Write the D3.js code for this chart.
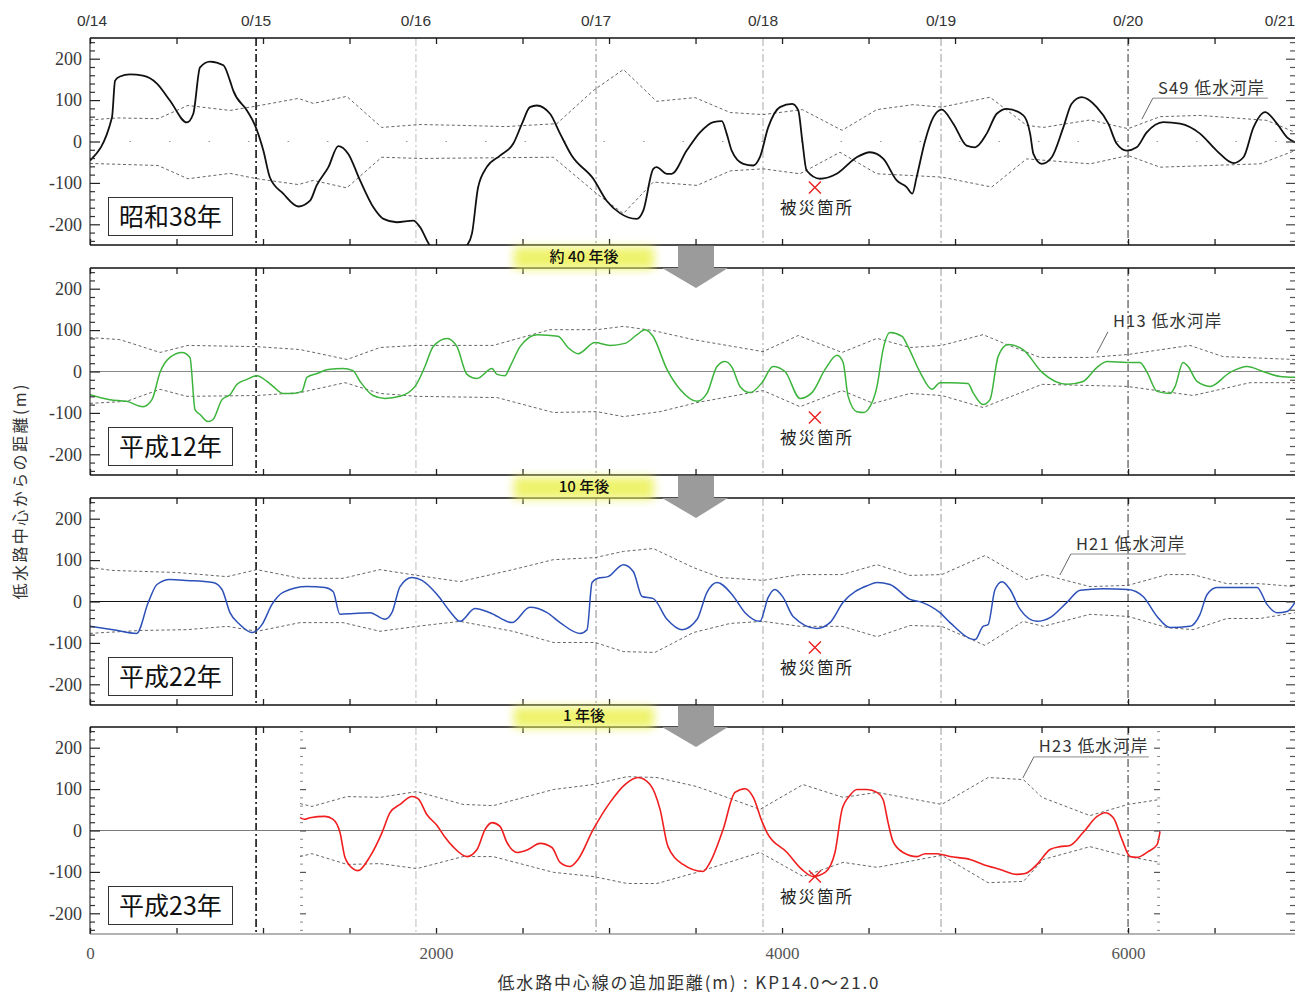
<!DOCTYPE html>
<html>
<head>
<meta charset="utf-8">
<script src="https://cdnjs.cloudflare.com/ajax/libs/d3/7.8.5/d3.min.js"></script>
<style>
  body { margin: 0; background: #fff; }
  svg { display: block; }
  .serif text { font-family: 'Liberation Serif', 'DejaVu Serif', serif; }
</style>
</head>
<body>
<svg id="chart" width="1306" height="993"></svg>
<script>
// ---- data -------------------------------------------------------------
// kilometre posts along the low-water channel (distance in m)
const kpNames = ["0/14", "0/15", "0/16", "0/17", "0/18", "0/19", "0/20", "0/21"];
const kpDist  = [0, 960, 1884, 2925, 3890, 4919, 6000, 6965];

const panelYears = ["昭和38年", "平成12年", "平成22年", "平成23年"];
const bankLabels = ["S49 低水河岸", "H13 低水河岸", "H21 低水河岸", "H23 低水河岸"];
const bankLabelTips = [[6080, 54], [5820, 45], [5606, 64], [5392, 127]];
const gapLabels = ["約 40 年後", "10 年後", "1 年後"];
const damageSite = [4190, -111];
const damageText = "被災箇所";

const xTickLabels = [0, 2000, 4000, 6000];
const yTickLabels = [200, 100, 0, -100, -200];
const xTitle = "低水路中心線の追加距離(m) : KP14.0～21.0";
const yTitle = "低水路中心からの距離(m)";

// low-water channel alignment, [distance m, offset m]
const centerS38 = [[0,-46],[127,58],[145,147],[173,157],[231,162],[306,159],[387,140],[462,99],[560,46],[597,67],[636,179],[694,193],[771,184],[809,147],[828,123],[907,75],[954,39],[1002,-22],[1040,-87],[1117,-126],[1204,-157],[1272,-143],[1310,-106],[1378,-62],[1435,-11],[1493,-30],[1561,-94],[1638,-159],[1696,-187],[1773,-195],[1869,-191],[1908,-207],[1965,-251],[2000,-262],[2150,-262],[2179,-251],[2208,-222],[2243,-111],[2293,-62],[2370,-34],[2447,-5],[2497,43],[2543,83],[2582,87],[2659,67],[2717,19],[2784,-34],[2909,-90],[2986,-143],[3063,-173],[3160,-187],[3198,-167],[3256,-66],[3275,-62],[3333,-78],[3362,-78],[3449,-22],[3526,22],[3603,47],[3652,49],[3680,19],[3709,-22],[3776,-54],[3834,-58],[3872,-38],[3920,34],[3988,83],[4059,91],[4094,75],[4117,2],[4142,-70],[4220,-90],[4316,-78],[4432,-38],[4509,-26],[4586,-42],[4663,-94],[4720,-110],[4753,-126],[4778,-86],[4827,2],[4875,59],[4923,77],[4990,43],[5067,-10],[5116,-14],[5183,19],[5241,67],[5299,79],[5395,63],[5434,19],[5453,-30],[5501,-54],[5559,-38],[5626,34],[5674,91],[5732,107],[5819,83],[5886,43],[5934,-5],[5992,-22],[6050,-14],[6108,22],[6204,47],[6301,43],[6416,19],[6512,-22],[6609,-52],[6667,-38],[6725,34],[6792,71],[6861,43],[6919,10],[6965,-2]];
const upperS38 = [[0,52],[156,57],[393,55],[566,87],[809,75],[954,85],[1204,104],[1291,92],[1484,109],[1686,34],[1908,41],[2139,39],[2399,36],[2698,43],[2909,123],[3083,174],[3275,97],[3497,106],[3700,70],[3890,65],[4117,77],[4347,27],[4548,77],[4757,89],[4923,83],[5202,107],[5414,39],[5510,34],[5780,52],[6000,31],[6185,60],[6416,63],[6803,51],[6965,22]];
const lowerS38 = [[0,-53],[393,-58],[566,-90],[809,-77],[965,-90],[1204,-104],[1291,-94],[1484,-112],[1686,-38],[1908,-41],[2678,-38],[2929,-126],[3083,-174],[3256,-98],[3509,-106],[3700,-71],[3890,-66],[4104,-78],[4335,-26],[4548,-78],[4923,-86],[5212,-110],[5414,-42],[5780,-54],[6000,-34],[6185,-62],[6763,-54],[6965,-22]];

const centerH12 = [[0,-56],[116,-68],[212,-72],[306,-85],[358,-68],[405,-2],[462,34],[532,46],[578,34],[607,-92],[636,-104],[682,-121],[711,-116],[763,-68],[809,-56],[850,-31],[907,-19],[965,-10],[1023,-24],[1058,-36],[1116,-53],[1173,-53],[1225,-48],[1254,-14],[1312,-5],[1376,5],[1462,7],[1520,2],[1561,-24],[1636,-58],[1705,-65],[1792,-60],[1879,-36],[1936,12],[1983,60],[2064,80],[2121,60],[2179,-7],[2237,-17],[2324,7],[2353,-7],[2399,-10],[2428,12],[2486,60],[2584,89],[2705,85],[2763,58],[2821,43],[2919,70],[3006,63],[3092,68],[3162,89],[3208,101],[3254,85],[3335,5],[3410,-43],[3509,-72],[3566,-53],[3624,12],[3670,24],[3711,10],[3757,-36],[3815,-51],[3884,-27],[3948,12],[4017,0],[4104,-65],[4173,-51],[4249,5],[4318,39],[4353,22],[4382,-60],[4433,-97],[4475,-99],[4497,-92],[4549,-36],[4584,53],[4624,94],[4694,85],[4728,60],[4798,-2],[4867,-43],[4913,-27],[4971,-27],[5075,-29],[5104,-51],[5162,-80],[5202,-68],[5249,36],[5306,65],[5393,53],[5503,-2],[5647,-31],[5740,-24],[5821,10],[5879,24],[5994,22],[6069,22],[6110,-2],[6168,-48],[6243,-53],[6272,-36],[6318,22],[6347,12],[6399,-24],[6474,-36],[6590,-2],[6688,12],[6780,0],[6879,-12],[6965,-14]];
const upperH12 = [[0,82],[173,77],[405,46],[566,63],[965,60],[1214,53],[1486,29],[1676,58],[1890,63],[2330,63],[2659,101],[2929,101],[3083,109],[3254,99],[3487,77],[3890,48],[4094,87],[4347,46],[4549,80],[4740,58],[4923,63],[5162,89],[5300,65],[5491,34],[5780,34],[6000,41],[6358,63],[6549,36],[6965,29]];
const lowerH12 = [[0,-77],[212,-72],[405,-43],[560,-60],[965,-58],[1214,-51],[1474,-27],[1676,-53],[1890,-60],[2353,-63],[2678,-99],[2929,-97],[3083,-109],[3295,-97],[3509,-75],[3890,-46],[4104,-85],[4347,-46],[4528,-77],[4740,-53],[4923,-58],[5162,-87],[5503,-31],[5994,-36],[6376,-58],[6705,-27],[6965,-27]];

const centerH22 = [[0,-60],[133,-68],[270,-77],[337,-2],[387,41],[462,53],[560,51],[711,46],[763,29],[809,-27],[867,-56],[936,-75],[994,-56],[1052,-7],[1116,22],[1254,36],[1358,34],[1405,24],[1445,-31],[1520,-29],[1618,-27],[1705,-43],[1745,-27],[1792,36],[1861,58],[1919,51],[2006,17],[2081,-24],[2139,-48],[2225,-17],[2312,-27],[2439,-51],[2543,-14],[2642,-27],[2717,-51],[2832,-77],[2873,-68],[2902,46],[2936,56],[2994,60],[3083,89],[3141,72],[3191,12],[3256,7],[3335,-43],[3422,-68],[3509,-43],[3566,22],[3624,46],[3711,17],[3786,-27],[3872,-48],[3920,10],[3959,29],[4006,10],[4064,-36],[4202,-65],[4277,-51],[4353,-2],[4497,39],[4549,46],[4624,41],[4740,5],[4809,-2],[4913,-27],[4971,-51],[5116,-92],[5162,-60],[5191,-56],[5231,29],[5272,48],[5318,29],[5376,-19],[5474,-48],[5549,-39],[5647,-2],[5723,27],[5856,31],[6000,29],[6087,12],[6168,-36],[6243,-63],[6358,-60],[6416,-31],[6457,17],[6514,34],[6746,34],[6803,-7],[6861,-27],[6919,-24],[6965,-2]];
const upperH22 = [[0,82],[133,75],[503,70],[792,60],[965,77],[1214,56],[1462,56],[1676,77],[1890,63],[2139,48],[2445,77],[2678,101],[2919,106],[3083,121],[3256,128],[3487,82],[3642,58],[3890,51],[4104,65],[4347,65],[4549,89],[4740,63],[4923,65],[5173,111],[5414,53],[5510,65],[5780,36],[6000,39],[6225,65],[6376,65],[6572,43],[6763,43],[6965,36]];
const lowerH22 = [[0,-77],[289,-70],[560,-68],[792,-60],[965,-72],[1214,-51],[1462,-51],[1676,-72],[1890,-60],[2139,-48],[2445,-72],[2678,-99],[2919,-99],[3083,-121],[3266,-123],[3487,-75],[3700,-53],[3890,-48],[4104,-60],[4347,-60],[4549,-85],[4740,-58],[4923,-60],[5173,-106],[5393,-48],[5510,-60],[5780,-31],[6000,-36],[6225,-63],[6376,-68],[6572,-41],[6763,-41],[6965,-27]];

const centerH23 = [[1214,31],[1240,27],[1272,31],[1358,34],[1405,27],[1445,-5],[1474,-65],[1520,-92],[1549,-97],[1618,-63],[1688,-5],[1734,43],[1792,63],[1861,82],[1896,77],[1948,38],[2006,12],[2050,-15],[2098,-39],[2179,-63],[2237,-46],[2283,2],[2324,19],[2370,10],[2410,-29],[2468,-53],[2532,-46],[2601,-31],[2670,-41],[2717,-77],[2775,-87],[2821,-70],[2908,2],[3006,68],[3092,111],[3168,128],[3237,111],[3295,51],[3341,-39],[3428,-82],[3543,-99],[3584,-77],[3659,2],[3728,92],[3786,101],[3834,80],[3884,22],[3913,-5],[4029,-53],[4115,-94],[4179,-111],[4249,-101],[4306,-53],[4347,51],[4393,85],[4433,99],[4491,99],[4549,92],[4584,75],[4613,19],[4642,-27],[4700,-53],[4780,-63],[4827,-56],[4896,-56],[4971,-63],[5087,-70],[5162,-82],[5260,-94],[5358,-106],[5405,-104],[5474,-82],[5549,-46],[5607,-39],[5665,-36],[5740,-5],[5821,34],[5867,43],[5915,31],[5965,-22],[6012,-63],[6050,-65],[6116,-51],[6168,-34],[6185,-2]];
const upperH23 = [[1214,65],[1283,58],[1486,82],[1676,80],[1890,94],[2156,63],[2330,60],[2678,99],[2908,111],[3104,130],[3277,128],[3509,106],[3873,51],[4121,111],[4353,80],[4549,92],[4923,63],[5191,128],[5395,123],[5503,80],[5780,36],[6000,63],[6185,75]];
const lowerH23 = [[1214,-63],[1283,-56],[1486,-82],[1676,-80],[1890,-92],[2156,-63],[2330,-63],[2678,-101],[2908,-111],[3104,-128],[3277,-128],[3509,-101],[3873,-53],[4121,-111],[4353,-77],[4549,-89],[4923,-60],[5191,-126],[5395,-123],[5510,-70],[5780,-39],[6000,-63],[6185,-77]];
// survey extent of the 平成23年 section
const surveyExtentH23 = [1214, 6185];

const centerLines = [centerS38, centerH12, centerH22, centerH23];
const upperBanks  = [upperS38, upperH12, upperH22, upperH23];
const lowerBanks  = [lowerS38, lowerH12, lowerH22, lowerH23];

// ---- layout & styles --------------------------------------------------
const left = 90, right = 1295;
const panelTops = [38, 268, 498, 727];
const panelH = 207;
const lineColors = ["#111111", "#3cb43c", "#2c50b8", "#f01e1e"];
const lineWidths = [1.8, 1.5, 1.5, 1.6];
const zeroStyles = [
  { stroke: "#999", dash: "1.5,38", width: 1.2 },
  { stroke: "#8a8a8a", dash: null, width: 1 },
  { stroke: "#111", dash: null, width: 1 },
  { stroke: "#7a7a7a", dash: null, width: 1 }
];
const kpStyles = [
  null,
  { stroke: "#222", width: 1.7 },
  { stroke: "#bdbdbd", width: 1 },
  { stroke: "#8c8c8c", width: 1 },
  { stroke: "#a8a8a8", width: 1 },
  { stroke: "#999", width: 1 },
  { stroke: "#444", width: 1.1 },
  null
];
const jp = "'Noto Sans CJK JP', 'Noto Sans', sans-serif";
const sans = "'Liberation Sans', Arial, sans-serif";
const plain = d => String(d);

const svg = d3.select("#chart");
const defs = svg.append("defs");
defs.append("filter").attr("id", "glow")
  .attr("x", "-30%").attr("y", "-80%").attr("width", "160%").attr("height", "260%")
  .append("feGaussianBlur").attr("stdDeviation", 5);

const x = d3.scaleLinear().domain([0, 6965]).range([left, right]);
const y = d3.scaleLinear().domain([-250, 250]).range([panelH, 0]);

const line = d3.line().x(d => x(d[0])).y(d => y(d[1]));
const smooth = d3.line().x(d => x(d[0])).y(d => y(d[1])).curve(d3.curveMonotoneX);

// ---- KP labels along the top -------------------------------------------
svg.append("g").selectAll("text").data(kpNames).join("text")
  .attr("x", (d, i) => x(kpDist[i]) + (i === 0 ? 2 : 0))
  .attr("y", 26)
  .attr("text-anchor", (d, i) => i === kpNames.length - 1 ? "end" : "middle")
  .style("font-family", sans).attr("font-size", 15.5).attr("fill", "#333")
  .text(d => d);

// ---- panels -----------------------------------------------------------
panelTops.forEach((top, i) => {
  const g = svg.append("g").attr("transform", `translate(0,${top})`);
  defs.append("clipPath").attr("id", "clip" + i)
    .append("rect").attr("x", left).attr("y", 0).attr("width", right - left).attr("height", panelH);
  const plot = g.append("g").attr("clip-path", `url(#clip${i})`);

  // kilometre post guide lines
  kpDist.forEach((d, k) => {
    const s = kpStyles[k];
    if (!s) return;
    plot.append("line")
      .attr("x1", x(d)).attr("x2", x(d)).attr("y1", 0).attr("y2", panelH)
      .attr("stroke", s.stroke).attr("stroke-width", s.width)
      .attr("stroke-dasharray", "8,3,2,3");
  });

  // zero line
  const zs = zeroStyles[i];
  plot.append("line")
    .attr("x1", left).attr("x2", right).attr("y1", y(0)).attr("y2", y(0))
    .attr("stroke", zs.stroke).attr("stroke-width", zs.width)
    .attr("stroke-dasharray", zs.dash);

  // bank lines
  [upperBanks[i], lowerBanks[i]].forEach(b => {
    plot.append("path").datum(b).attr("d", line)
      .attr("fill", "none").attr("stroke", "#555").attr("stroke-width", 0.9)
      .attr("stroke-dasharray", "3,2.5");
  });

  // channel centre line
  plot.append("path").datum(centerLines[i]).attr("d", smooth)
    .attr("fill", "none").attr("stroke", lineColors[i])
    .attr("stroke-width", lineWidths[i]).attr("stroke-linejoin", "round");

  // y ticks on both sides
  const minorVals = d3.range(-240, 241, 20).filter(v => v % 100 !== 0);
  const majorVals = [-200, -100, 0, 100, 200];
  const tickAxis = (axisFn, vals, size, xpos, color, w) => {
    const a = g.append("g").attr("transform", `translate(${xpos},0)`)
      .call(axisFn(y).tickValues(vals).tickSize(size).tickFormat(""));
    a.select(".domain").remove();
    a.selectAll("line").attr("stroke", color).attr("stroke-width", w || 1.2);
  };
  tickAxis(d3.axisRight, minorVals, 5, left, "#333");
  tickAxis(d3.axisRight, majorVals, 10, left, "#222");
  tickAxis(d3.axisLeft, minorVals, 5, right, "#555");
  tickAxis(d3.axisLeft, majorVals, 9, right, "#444");

  // extra tick columns at the ends of the 平成23年 survey
  if (i === 3) {
    tickAxis(d3.axisRight, minorVals, 3, x(surveyExtentH23[0]), "#888", 1);
    tickAxis(d3.axisRight, majorVals, 6, x(surveyExtentH23[0]), "#555", 1.2);
    tickAxis(d3.axisLeft, minorVals, 3, x(surveyExtentH23[1]), "#888", 1);
    tickAxis(d3.axisLeft, majorVals, 6, x(surveyExtentH23[1]), "#555", 1.2);
  }

  // y tick labels
  const ya = g.append("g").attr("class", "serif").attr("transform", `translate(${left},0)`)
    .call(d3.axisLeft(y).tickValues(yTickLabels).tickSize(0).tickPadding(8).tickFormat(plain));
  ya.select(".domain").remove();
  ya.selectAll("text").attr("font-size", 18).attr("fill", "#3a3a3a");

  // x ticks top and bottom
  const xt = d3.range(0, 6966, 500);
  const topAx = g.append("g").call(d3.axisBottom(x).tickValues(xt).tickSize(6).tickFormat(""));
  topAx.select(".domain").remove();
  topAx.selectAll("line").attr("stroke", "#222").attr("stroke-width", 1.3);
  const botAx = g.append("g").attr("transform", `translate(0,${panelH})`)
    .call(d3.axisTop(x).tickValues(xt).tickSize(6).tickFormat(""));
  botAx.select(".domain").remove();
  botAx.selectAll("line").attr("stroke", "#222").attr("stroke-width", 1.3);

  // frame (no right edge)
  g.append("line").attr("x1", left).attr("x2", right).attr("y1", 0).attr("y2", 0)
    .attr("stroke", "#111").attr("stroke-width", 1.6);
  g.append("line").attr("x1", left).attr("x2", right).attr("y1", panelH).attr("y2", panelH)
    .attr("stroke", i === 3 ? "#9a9a9a" : "#111").attr("stroke-width", 1.6);
  g.append("line").attr("x1", left).attr("x2", left).attr("y1", 0).attr("y2", panelH)
    .attr("stroke", "#222").attr("stroke-width", 1.1);

  // year box
  g.append("rect").attr("x", 108.5).attr("y", 159.5).attr("width", 124).attr("height", 38)
    .attr("fill", "#fff").attr("stroke", "#333").attr("stroke-width", 1);
  g.append("text").attr("x", 170.5).attr("y", 179).attr("dy", "0.35em")
    .attr("text-anchor", "middle").style("font-family", jp).attr("font-size", 25)
    .attr("fill", "#111").text(panelYears[i]);

  // damage site marker
  const dx = x(damageSite[0]), dy = y(damageSite[1]);
  g.append("path")
    .attr("d", `M${dx - 6},${dy - 6}L${dx + 6},${dy + 6}M${dx + 6},${dy - 6}L${dx - 6},${dy + 6}`)
    .attr("stroke", "#e8201e").attr("stroke-width", 1.4).attr("fill", "none");
  g.append("text").attr("x", dx + 2).attr("y", dy + 21).attr("dy", "0.35em")
    .attr("text-anchor", "middle").style("font-family", jp).attr("font-size", 16.5)
    .attr("letter-spacing", 2).attr("fill", "#222").text(damageText);

  // bank label with leader
  const tx = x(bankLabelTips[i][0]), ty = y(bankLabelTips[i][1]);
  const kx = tx + 11, ky = ty - 21;
  g.append("line").attr("x1", tx).attr("y1", ty).attr("x2", kx).attr("y2", ky)
    .attr("stroke", "#555").attr("stroke-width", 0.9);
  if (i !== 1) {
    g.append("line").attr("x1", kx).attr("y1", ky).attr("x2", kx + 115).attr("y2", ky)
      .attr("stroke", "#8a8a8a").attr("stroke-width", 1);
  }
  g.append("text").attr("x", kx + 5).attr("y", ky - 4.5)
    .style("font-family", jp).attr("font-size", 16.5).attr("letter-spacing", 1.2)
    .attr("fill", "#333").text(bankLabels[i]);
});

// ---- gaps between panels ---------------------------------------------
gapLabels.forEach((lab, i) => {
  const gTop = panelTops[i] + panelH, gBot = panelTops[i + 1];
  const g = svg.append("g");
  g.append("rect").attr("x", 514).attr("y", gTop + 2).attr("width", 140).attr("height", gBot - gTop - 1)
    .attr("fill", "#ecf25c").attr("opacity", 0.9).attr("filter", "url(#glow)");
  g.append("text").attr("x", 584).attr("y", (gTop + gBot) / 2).attr("dy", "0.35em")
    .attr("text-anchor", "middle").style("font-family", jp).attr("font-size", 15)
    .attr("font-weight", 500).attr("fill", "#111").text(lab);
  g.append("rect").attr("x", 678).attr("y", gTop + 0.8).attr("width", 36).attr("height", gBot - gTop - 0.8)
    .attr("fill", "#9b9b9b");
  g.append("path").attr("d", `M662,${gBot}L728,${gBot}L696,${gBot + 20}Z`).attr("fill", "#9b9b9b");
});

// ---- bottom axis labels and titles ------------------------------------
const bx = svg.append("g").attr("class", "serif").attr("transform", `translate(0,${panelTops[3] + panelH})`)
  .call(d3.axisBottom(x).tickValues(xTickLabels).tickSize(0).tickPadding(13).tickFormat(plain));
bx.select(".domain").remove();
bx.selectAll("text").attr("font-size", 17).attr("fill", "#555");

svg.append("text").attr("x", 688).attr("y", 989)
  .attr("text-anchor", "middle").style("font-family", jp).attr("font-size", 17)
  .attr("fill", "#333").attr("textLength", 381).attr("lengthAdjust", "spacing")
  .text(xTitle);

svg.append("text").attr("transform", "translate(26,492) rotate(-90)")
  .attr("text-anchor", "middle").style("font-family", jp).attr("font-size", 16)
  .attr("fill", "#333").attr("textLength", 215).attr("lengthAdjust", "spacing")
  .text(yTitle);
</script>
</body>
</html>
